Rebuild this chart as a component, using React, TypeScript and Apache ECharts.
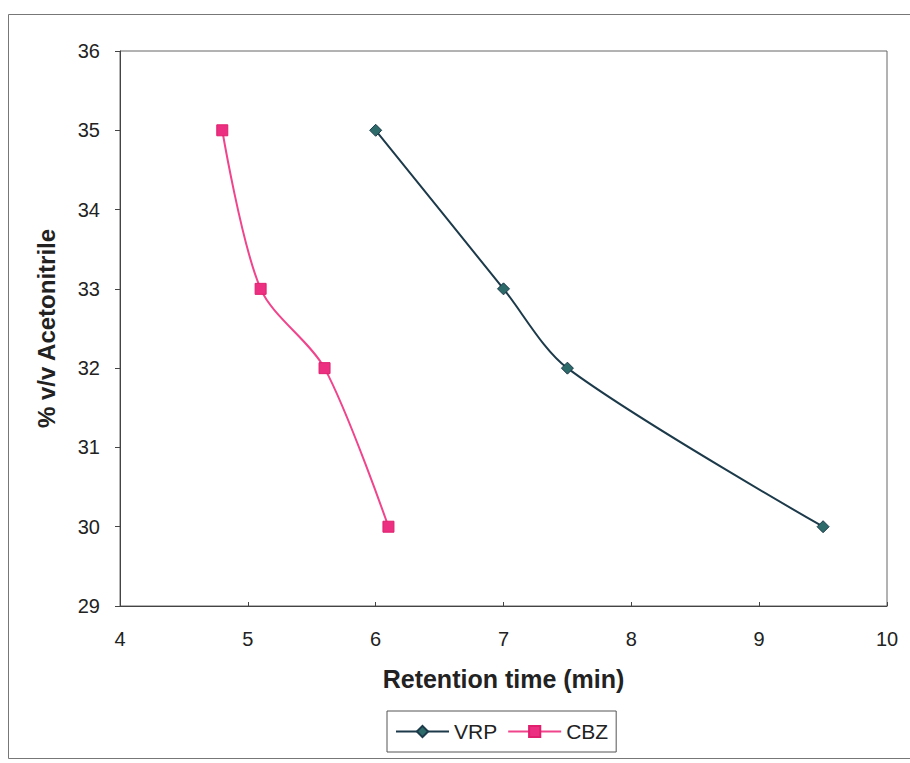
import React, { useEffect, useRef } from "react";
import * as echarts from "echarts";

const vrpX = [6.0, 7.0, 7.5, 9.5];
const vrpY = [35, 33, 32, 30];
const cbzX = [4.8, 5.1, 5.6, 6.1];
const cbzY = [35, 33, 32, 30];
const xTitle = "Retention time (min)";
const yTitle = "% v/v Acetonitrile";

export default function App() {
  const ref = useRef<HTMLDivElement>(null);
  useEffect(() => {
    const chart = echarts.init(ref.current!, null, { renderer: "svg" });
    const font = "Liberation Sans, Arial, sans-serif";
    chart.setOption({
      animation: false,
      backgroundColor: "#ffffff",
      grid: {
        left: 120, right: 23, top: 51, bottom: 157,
        show: true, borderColor: "#666", borderWidth: 1,
      },
      xAxis: {
        type: "value", min: 4, max: 10, interval: 1,
        name: xTitle, nameLocation: "middle", nameGap: 60,
        nameTextStyle: { fontFamily: font, fontSize: 25, fontWeight: "bold", color: "#222" },
        axisLine: { lineStyle: { color: "#444" } },
        axisTick: { inside: true, length: 4, lineStyle: { color: "#444" } },
        axisLabel: { fontFamily: font, fontSize: 20, color: "#222", margin: 23 },
        splitLine: { show: false },
      },
      yAxis: {
        type: "value", min: 29, max: 36, interval: 1,
        name: yTitle, nameLocation: "middle", nameGap: 62,
        nameTextStyle: { fontFamily: font, fontSize: 24, fontWeight: "bold", color: "#222" },
        axisLine: { lineStyle: { color: "#444" } },
        axisTick: { length: 5, lineStyle: { color: "#444" } },
        axisLabel: { fontFamily: font, fontSize: 20, color: "#222", margin: 20 },
        splitLine: { show: false },
      },
      legend: {
        top: 711, left: 387,
        data: ["VRP", "CBZ"],
        itemWidth: 53, itemHeight: 14, itemGap: 10,
        padding: [10, 8, 10, 8],
        borderColor: "#555", borderWidth: 1,
        textStyle: { fontFamily: font, fontSize: 21, color: "#222", padding: [0, 0, 0, 0] },
      },
      graphic: [
        {
          type: "rect", shape: { x: 8.5, y: 14.5, width: 920, height: 744 },
          style: { fill: "none", stroke: "#777", lineWidth: 1 }, silent: true,
        },
      ],
      series: [
        {
          name: "VRP", type: "line", smooth: 0.3,
          data: vrpX.map((x, i) => [x, vrpY[i]]),
          symbol: "diamond", symbolSize: 12,
          lineStyle: { color: "#1c3a4a", width: 2 },
          itemStyle: { color: "#2d6a6a", borderColor: "#1c3a4a", borderWidth: 1 },
        },
        {
          name: "CBZ", type: "line", smooth: 0.3,
          data: cbzX.map((x, i) => [x, cbzY[i]]),
          symbol: "rect", symbolSize: 11,
          lineStyle: { color: "#f0448c", width: 2 },
          itemStyle: { color: "#ec2f80", borderColor: "#e0206f", borderWidth: 1 },
        },
      ],
    });
    return () => chart.dispose();
  }, []);
  return (
    <div
      ref={ref}
      style={{ position: "fixed", left: 0, top: 0, width: 910, height: 763 }}
    />
  );
}
